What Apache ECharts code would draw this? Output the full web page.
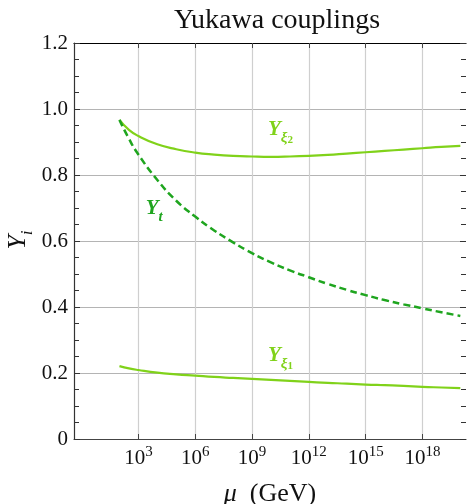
<!DOCTYPE html>
<html><head><meta charset="utf-8">
<script src="https://cdn.jsdelivr.net/npm/echarts@6/dist/echarts.min.js"></script>
<style>html,body{margin:0;padding:0;background:#fff}#c{width:468px;height:504px}</style>
</head><body><div id="c"></div>
<script>
// log10(mu / GeV)
const logMu = [2,2.5,3,4,5,6,7,8,9,10,11,12,13,14,15,16,17,18,19,20];
const yXi2 = [0.967,0.937,0.918,0.893,0.878,0.868,0.862,0.858,0.856,0.855,0.856,0.858,0.861,0.865,0.869,0.873,0.877,0.881,0.885,0.888];
const yT   = [0.967,0.910,0.862,0.785,0.722,0.674,0.632,0.596,0.563,0.535,0.511,0.490,0.470,0.452,0.436,0.421,0.408,0.396,0.384,0.373];
const yXi1 = [0.221,0.214,0.209,0.201,0.196,0.192,0.188,0.185,0.182,0.179,0.176,0.173,0.170,0.168,0.165,0.163,0.161,0.158,0.156,0.154];
const xTickExps = [3,6,9,12,15,18];
const labelPos = {xi2:[10.5,0.93], t:[3.84,0.69], xi1:[10.5,0.245]};

const LIGHT = '#80d21a', DARK = '#1fa51f';
const SERIF = 'Liberation Serif';
const zip = a => logMu.map((x,i)=>[x,a[i]]);

function lbl(color, sub, num, pos){
  return {coord: pos, symbol:'circle', symbolSize:0,
    label:{show:true, position:'inside', formatter:'{Y|Y}{s|'+sub+'}'+(num?'{n|'+num+'}':''),
      rich:{Y:{fontFamily:SERIF,fontSize:21,fontWeight:'bold',fontStyle:'italic',color:color,padding:[0,0,6,0],verticalAlign:'bottom'},
            s:{fontFamily:SERIF,fontSize:15,fontWeight:'bold',fontStyle:'italic',color:color,verticalAlign:'bottom'},
            n:{fontFamily:SERIF,fontSize:11,fontWeight:'bold',color:color,verticalAlign:'bottom'}}}};
}

const chart = echarts.init(document.getElementById('c'), null, {renderer:'canvas'});
chart.setOption({
  animation:false,
  title:{text:'Yukawa couplings', left:272, top:2, textAlign:'center',
    textStyle:{fontFamily:SERIF,fontSize:28,fontWeight:'normal',color:'#111'}},
  graphic:[{type:'text', x:21, y:240, rotation:Math.PI/2,
    style:{text:'{y|Y}{i|i}', align:'center', verticalAlign:'middle',
      rich:{y:{fontFamily:SERIF,fontSize:26,fontStyle:'italic',fill:'#111',padding:[0,0,5,0],verticalAlign:'bottom'},
            i:{fontFamily:SERIF,fontSize:17,fontStyle:'italic',fill:'#111',verticalAlign:'bottom'}}}}],
  grid:{left:74, top:43, right:2, bottom:65, containLabel:false, outerBoundsMode:'none'},
  xAxis:[{
    type:'value', min:-0.4, max:20.3, position:'bottom',
    name:'{m|μ}{t|  (GeV)}', nameLocation:'middle', nameGap:42,
    nameTextStyle:{rich:{m:{fontFamily:SERIF,fontSize:26,fontStyle:'italic',color:'#111'},t:{fontFamily:SERIF,fontSize:26,color:'#111'}}},
    axisLine:{show:true,onZero:false,lineStyle:{color:'#444',width:1.2}},
    axisTick:{show:true,inside:true,length:5,customValues:xTickExps,lineStyle:{color:'#444'}},
    axisLabel:{customValues:xTickExps, margin:6,
      formatter:v=>'{b|10}{e|'+Math.round(v)+'}',
      rich:{b:{fontFamily:SERIF,fontSize:21,color:'#111',verticalAlign:'bottom'},
            e:{fontFamily:SERIF,fontSize:15,color:'#111',verticalAlign:'bottom',padding:[0,0,9,0]}}},
    splitLine:{show:true,lineStyle:{color:'#cfcfcf',width:1.2}}
  },{
    type:'value', min:-0.4, max:20.3, position:'top',
    axisLine:{show:true,onZero:false,lineStyle:{color:'#000',width:1.2}},
    axisTick:{show:true,inside:true,length:5,customValues:xTickExps,lineStyle:{color:'#444'}},
    axisLabel:{show:false}, splitLine:{show:false}
  }],
  yAxis:[{
    type:'value', min:0, max:1.2, interval:0.2, position:'left',
    axisLine:{show:true,onZero:false,lineStyle:{color:'#333',width:1.2}},
    axisTick:{show:true,inside:true,length:6,lineStyle:{color:'#333'}},
    minorTick:{show:true,splitNumber:4,length:5,lineStyle:{color:'#333'}},
    axisLabel:{margin:6,fontFamily:SERIF,fontSize:21,color:'#111',
      formatter:v=>Math.abs(v)<1e-9?'0':v.toFixed(1)},
    splitLine:{show:true,lineStyle:{color:'#b4b4b4',width:1.2}}
  },{
    type:'value', min:0, max:1.2, interval:0.2, position:'right',
    axisLine:{show:false,onZero:false},
    axisTick:{show:true,inside:true,length:6,lineStyle:{color:'#333'}},
    minorTick:{show:true,splitNumber:4,length:5,lineStyle:{color:'#333'}},
    axisLabel:{show:false}, splitLine:{show:false}
  }],
  series:[
    {type:'line', name:'Yxi2', data:zip(yXi2), smooth:true, symbol:'none',
     lineStyle:{color:LIGHT,width:2.2}, markPoint:{data:[lbl(LIGHT,'ξ','2',labelPos.xi2)]}},
    {type:'line', name:'Yt', data:zip(yT), smooth:true, symbol:'none',
     lineStyle:{color:DARK,width:2.5,type:[7,4]}, markPoint:{data:[lbl(DARK,'t','',labelPos.t)]}},
    {type:'line', name:'Yxi1', data:zip(yXi1), smooth:true, symbol:'none',
     lineStyle:{color:LIGHT,width:2.2}, markPoint:{data:[lbl(LIGHT,'ξ','1',labelPos.xi1)]}}
  ]
});
</script></body></html>
